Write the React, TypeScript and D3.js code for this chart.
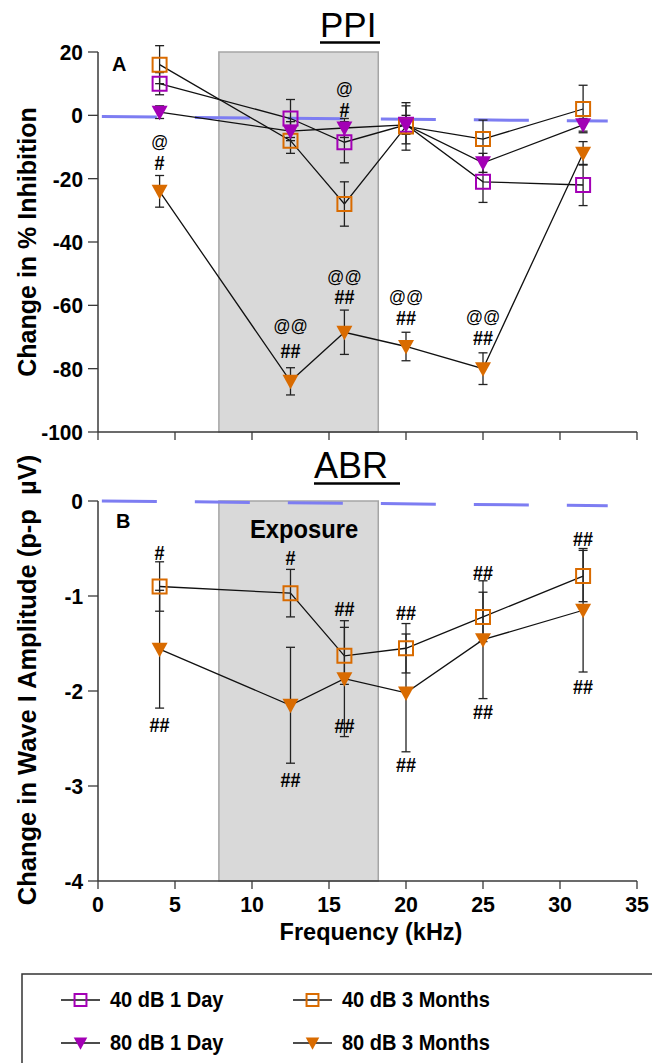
import React from 'react';
import * as d3 from 'd3';

// frequencies tested (kHz)
const freq = [4, 12.5, 16, 20, 25, 31.5];

// panel A - PPI, change in % inhibition
const ppi40Day = [10, -1, -8.5, -3, -21, -22];
const ppi40DayErr = [3.5, 6, 6.5, 6, 6.5, 6.5];
const ppi40Month = [16, -8, -28, -3.5, -7.5, 2];
const ppi40MonthErr = [6, 4, 7, 7.5, 6, 7.5];
const ppi80Day = [1, -5, -4, -3, -15, -3];
const ppi80DayErr = [2, 3, 3, 3, 3, 2];
const ppi80Month = [-24, -84, -68.5, -73, -80, -12];
const ppi80MonthErr = [5, 4.3, 7, 4.5, 5, 3.7];

// panel B - ABR wave I amplitude change
const abr40Month = [-0.9, -0.97, -1.63, -1.55, -1.22, -0.79];
const abr40MonthErr = [0.26, 0.25, 0.3, 0.26, 0.26, 0.27];
const abr80Month = [-1.56, -2.15, -1.87, -2.02, -1.46, -1.15];
const abr80MonthErr = [0.62, 0.61, 0.61, 0.62, 0.62, 0.65];

// dashed zero reference (start / end)
const refFreq = [0.25, 33.1];
const ppiRef = [-0.4, -1.8];
const abrRef = [0, -0.05];

// exposure band
const exposureBand = [7.85, 18.2];

// significance marks
const ppiNoteFreq = [4, 4, 16, 16, 12.5, 12.5, 16, 16, 20, 20, 25, 25];
const ppiNoteValue = [-8.4, -15, 8.6, 1.7, -66.5, -74.3, -51, -57.3, -57.3, -64, -63.6, -70.4];
const ppiNoteText = ['@', '#', '@', '#', '@@', '##', '@@', '##', '@@', '##', '@@', '##'];

const abrNoteFreq = [4, 12.5, 16, 20, 25, 31.5, 4, 12.5, 16, 20, 25, 31.5];
const abrNoteValue = [-0.54, -0.6, -1.13, -1.18, -0.76, -0.4, -2.36, -2.93, -2.37, -2.78, -2.22, -1.96];
const abrNoteText = ['#', '#', '##', '##', '##', '##', '##', '##', '##', '##', '##', '##'];

const ppiTicks = [20, 0, -20, -40, -60, -80, -100];
const abrTicks = [0, -1, -2, -3, -4];
const freqTicks = [0, 5, 10, 15, 20, 25, 30, 35];

const PURPLE = '#a300b5';
const ORANGE = '#d96b00';
const BLUE = '#7d7df2';
const AXIS = '#3a3a3a';
const FONT = 'Liberation Sans, Arial, sans-serif';

const x = d3.scaleLinear().domain([0, 35]).range([98, 637]);
const yA = d3.scaleLinear().domain([-100, 20]).range([432, 52]);
const yB = d3.scaleLinear().domain([-4, 0]).range([881, 501]);

const square = d3.symbol(d3.symbolSquare, 196)();
const triPath = 'M-8,-6.5L8,-6.5L0,8Z';

// slightly condensed text, like the original figure
function CText({ x, y, size, sx = 0.92, anchor = 'start', weight = 'bold', dy = undefined, children }) {
  return (
    <text
      transform={`translate(${x},${y}) scale(${sx},1)`}
      fontSize={size}
      textAnchor={anchor}
      fontWeight={weight}
      dy={dy}
    >
      {children}
    </text>
  );
}

function Marker({ kind, color, cx, cy, scale = 1 }) {
  const t = `translate(${cx},${cy}) scale(${scale})`;
  if (kind === 'square')
    return <path d={square} transform={t} fill="none" stroke={color} strokeWidth={2 / scale} />;
  return <path d={triPath} transform={t} fill={color} />;
}

function Series({ y, values, errs }) {
  const line = d3.line<number>().x((d, i) => x(freq[i])).y((d) => y(d));
  return (
    <g>
      <path d={line(values)} fill="none" stroke="#111" strokeWidth={1.3} />
      {values.map((v, i) => (
        <g key={i} stroke="#222" strokeWidth={1.3}>
          <line x1={x(freq[i])} x2={x(freq[i])} y1={y(v + errs[i])} y2={y(v - errs[i])} />
          <line x1={x(freq[i]) - 4.5} x2={x(freq[i]) + 4.5} y1={y(v + errs[i])} y2={y(v + errs[i])} />
          <line x1={x(freq[i]) - 4.5} x2={x(freq[i]) + 4.5} y1={y(v - errs[i])} y2={y(v - errs[i])} />
        </g>
      ))}
    </g>
  );
}

function Markers({ y, values, kind, color }) {
  return (
    <g>
      {values.map((v, i) => (
        <Marker key={i} kind={kind} color={color} cx={x(freq[i])} cy={y(v)} />
      ))}
    </g>
  );
}

function Frame({ y, ticks, showLabels }) {
  const [y0, y1] = y.range();
  return (
    <g fontFamily={FONT}>
      <rect
        x={x(exposureBand[0])}
        y={y1}
        width={x(exposureBand[1]) - x(exposureBand[0])}
        height={y0 - y1}
        fill="#d9d9d9"
        stroke="#a5a5a5"
        strokeWidth={1.5}
      />
      <line x1={x(0)} x2={x(0)} y1={y1} y2={y0} stroke={AXIS} strokeWidth={1.5} />
      <line x1={x(0)} x2={x(35)} y1={y0} y2={y0} stroke={AXIS} strokeWidth={1.5} />
      {ticks.map((t) => (
        <g key={t}>
          <line x1={x(0) - 10} x2={x(0)} y1={y(t)} y2={y(t)} stroke={AXIS} strokeWidth={1.3} />
          <CText x={83} y={y(t)} dy="0.36em" anchor="end" size={22} sx={0.95}>
            {String(t)}
          </CText>
        </g>
      ))}
      {freqTicks.map((f) => (
        <g key={f}>
          <line x1={x(f)} x2={x(f)} y1={y0} y2={y0 + 8} stroke={AXIS} strokeWidth={1.3} />
          {showLabels && (
            <CText x={x(f)} y={912} anchor="middle" size={22} sx={0.97}>
              {f}
            </CText>
          )}
        </g>
      ))}
    </g>
  );
}

function RefLine({ y, values }) {
  return (
    <line
      x1={x(refFreq[0])}
      x2={x(refFreq[1])}
      y1={y(values[0])}
      y2={y(values[1])}
      stroke={BLUE}
      strokeWidth={3}
      strokeDasharray="55 38"
    />
  );
}

function Notes({ y, fs, vs, ts }) {
  return (
    <g fontFamily={FONT}>
      {ts.map((t, i) => (
        <CText
          key={i}
          x={x(fs[i])}
          y={y(vs[i])}
          dy="0.36em"
          anchor="middle"
          size={t.includes('@') ? 18 : 20}
          sx={t.includes('@') ? 0.95 : 0.9}
          weight={t.includes('@') ? 'normal' : 'bold'}
        >
          {t}
        </CText>
      ))}
    </g>
  );
}

const legendItems = [
  { label: '40 dB 1 Day', kind: 'square', color: PURPLE },
  { label: '40 dB 3 Months', kind: 'square', color: ORANGE },
  { label: '80 dB 1 Day', kind: 'tri', color: PURPLE },
  { label: '80 dB 3 Months', kind: 'tri', color: ORANGE },
];

export default function App() {
  return (
    <svg
      width={652}
      height={1063}
      style={{ position: 'absolute', left: 0, top: 0, background: '#fff' }}
    >
      {/* panel A */}
      <Frame y={yA} ticks={ppiTicks} showLabels={false} />
      <RefLine y={yA} values={ppiRef} />
      <Series y={yA} values={ppi40Day} errs={ppi40DayErr} />
      <Series y={yA} values={ppi40Month} errs={ppi40MonthErr} />
      <Series y={yA} values={ppi80Day} errs={ppi80DayErr} />
      <Series y={yA} values={ppi80Month} errs={ppi80MonthErr} />
      <Markers y={yA} values={ppi40Day} kind="square" color={PURPLE} />
      <Markers y={yA} values={ppi40Month} kind="square" color={ORANGE} />
      <Markers y={yA} values={ppi80Day} kind="tri" color={PURPLE} />
      <Markers y={yA} values={ppi80Month} kind="tri" color={ORANGE} />
      <Notes y={yA} fs={ppiNoteFreq} vs={ppiNoteValue} ts={ppiNoteText} />

      {/* panel B */}
      <Frame y={yB} ticks={abrTicks} showLabels={true} />
      <RefLine y={yB} values={abrRef} />
      <Series y={yB} values={abr40Month} errs={abr40MonthErr} />
      <Series y={yB} values={abr80Month} errs={abr80MonthErr} />
      <Markers y={yB} values={abr40Month} kind="square" color={ORANGE} />
      <Markers y={yB} values={abr80Month} kind="tri" color={ORANGE} />
      <Notes y={yB} fs={abrNoteFreq} vs={abrNoteValue} ts={abrNoteText} />

      {/* titles and labels */}
      <g fontFamily={FONT}>
        <text x={320} y={37} fontSize={35}>PPI</text>
        <line x1={320} x2={380} y1={42.5} y2={42.5} stroke="#000" strokeWidth={2.5} />
        <text x={314} y={478} fontSize={36}>ABR</text>
        <line x1={314} x2={400} y1={483.5} y2={483.5} stroke="#000" strokeWidth={2.5} />
        <CText x={112} y={71} size={21} sx={0.95}>A</CText>
        <CText x={116} y={528} size={21} sx={0.95}>B</CText>
        <CText x={304} y={538} size={25} sx={0.95} anchor="middle">Exposure</CText>
        <text
          transform="translate(36,242) rotate(-90)"
          textAnchor="middle"
          fontSize={25}
          fontWeight="bold"
        >
          Change in % Inhibition
        </text>
        <text
          transform="translate(36,680) rotate(-90)"
          textAnchor="middle"
          fontSize={25.5}
          fontWeight="bold"
        >
          Change in Wave I Amplitude (p-p {'\u00a0'}µV)
        </text>
        <CText x={371} y={940} anchor="middle" size={24} sx={0.98}>
          Frequency (kHz)
        </CText>
      </g>

      {/* legend */}
      <rect x={22} y={974} width={700} height={200} fill="#fff" stroke="#333" strokeWidth={1.5} />
      <g fontFamily={FONT}>
        {legendItems.map((it, i) => {
          const lx = i % 2 === 0 ? 61 : 293;
          const ly = i < 2 ? 1000 : 1043;
          return (
            <g key={it.label}>
              <line x1={lx} x2={lx + 39} y1={ly} y2={ly} stroke="#111" strokeWidth={1.5} />
              <Marker kind={it.kind} color={it.color} cx={lx + 19.5} cy={ly} scale={0.85} />
              <CText x={lx + 49} y={ly + 7} size={22} sx={0.91}>
                {it.label}
              </CText>
            </g>
          );
        })}
      </g>
    </svg>
  );
}
